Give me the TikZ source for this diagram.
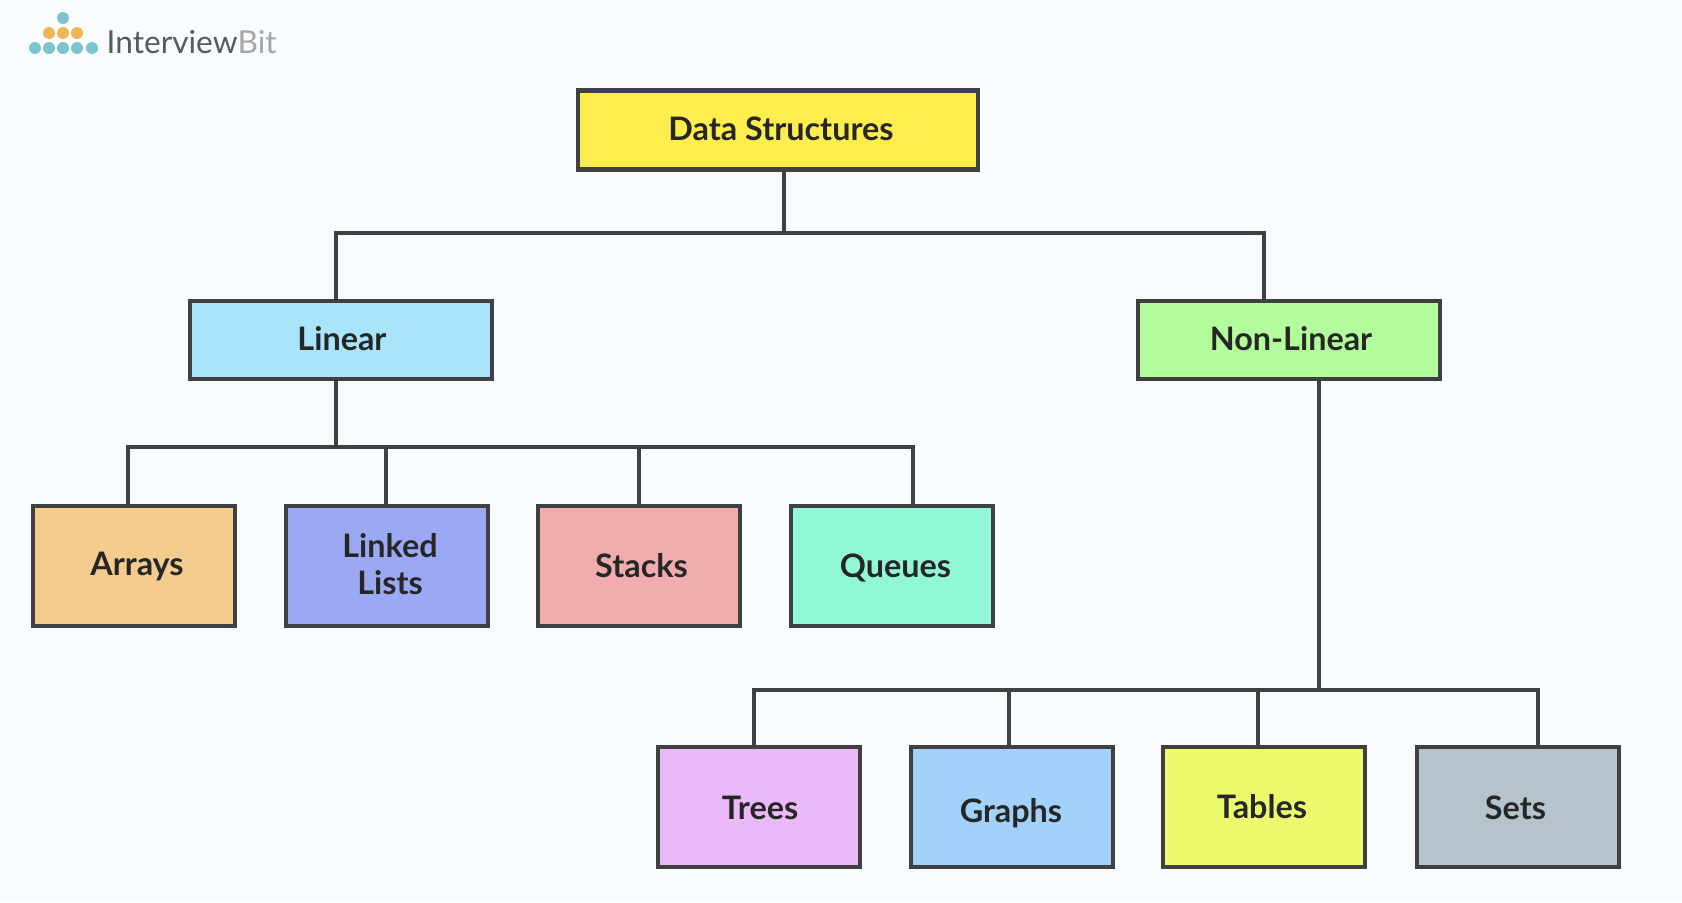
\documentclass[tikz,border=0pt]{standalone}
\usepackage{fontspec}
\setmainfont{Lato}

\definecolor{pagebg}{HTML}{F8FCFE}
\definecolor{linecol}{HTML}{404040}
\definecolor{dotteal}{HTML}{7CC4D0}
\definecolor{dotorange}{HTML}{EFB655}

\tikzset{
	box/.style={draw=linecol, line width=0.045cm, outer sep=0pt, inner sep=0pt, align=center, text=black!85, font=\fontsize{9.2}{10.5}\selectfont\bfseries},
	branch/.style={box, minimum width=3.02cm, minimum height=0.78cm},
	leaf/.style={box, minimum width=2.02cm, minimum height=1.2cm},
	link/.style={draw=linecol, line width=0.045cm, line cap=rect},
	nudge/.style={execute at begin node=\hspace*{#1}},
	rise/.style={text height=#1, text depth=0.06cm},
}

\begin{document}
\begin{tikzpicture}[x=0.01cm, y=-0.01cm]
	\fill[pagebg] (0,0) rectangle (1682,902);
	\useasboundingbox (0,0) rectangle (1682,902);

	% logo
	\foreach \x in {42,57,71,85} {\fill[white] (\x,41) circle (6);}
	\foreach \x in {57,71} {\fill[white] (\x,26) circle (6);}
	\foreach \x in {35,49,63,77,92} {\fill[dotteal] (\x,48) circle (6);}
	\foreach \x in {49,63,77} {\fill[dotorange] (\x,33) circle (6);}
	\fill[dotteal] (63,18) circle (6);
	\node[anchor=west, inner sep=0pt, font=\fontsize{9}{10}\selectfont] (logotext) at (106,42) {\textcolor{black!65}{Interview}\textcolor{black!35}{Bit}};

	% boxes
	\node[box, rise=0.27cm, nudge=0.06cm, fill={rgb,255:red,253;green,238;blue,77}, minimum width=4cm, minimum height=0.79cm] (ds) at (778,130) {Data Structures};
	\node[branch, rise=0.27cm, nudge=0.02cm, fill={rgb,255:red,170;green,228;blue,251}] (linear) at (341,340) {Linear};
	\node[branch, rise=0.27cm, nudge=0.04cm, fill={rgb,255:red,180;green,253;blue,156}] (nonlinear) at (1289,340) {Non-Linear};

	\node[leaf, rise=0.25cm, nudge=0.06cm, fill={rgb,255:red,244;green,204;blue,142}] (arrays) at (134,566) {Arrays};
	\node[leaf, text depth=0.04cm, fill={rgb,255:red,155;green,169;blue,245}] (linked) at (387,566) {\hspace*{0.06cm}Linked\\\hspace*{0.06cm}Lists};
	\node[leaf, rise=0.29cm, nudge=0.05cm, fill={rgb,255:red,241;green,173;blue,173}] (stacks) at (639,566) {Stacks};
	\node[leaf, rise=0.29cm, nudge=0.07cm, fill={rgb,255:red,144;green,249;blue,211}] (queues) at (892,566) {Queues};

	\node[leaf, rise=0.31cm, nudge=0.02cm, fill={rgb,255:red,235;green,185;blue,247}] (trees) at (759,807) {Trees};
	\node[leaf, rise=0.36cm, nudge=-0.02cm, fill={rgb,255:red,162;green,209;blue,250}] (graphs) at (1012,807) {Graphs};
	\node[leaf, rise=0.29cm, nudge=-0.04cm, fill={rgb,255:red,237;green,250;blue,110}] (tables) at (1264,807) {Tables};
	\node[leaf, rise=0.31cm, nudge=-0.05cm, fill={rgb,255:red,180;green,196;blue,202}] (sets) at (1518,807) {Sets};

	% top level
	\coordinate (jtop) at (784,233);
	\coordinate (jleft) at (336,233);
	\coordinate (jright) at (1264,233);
	\draw[link] (ds.south -| jtop) -- (jtop);
	\draw[link] (linear.north -| jleft) -- (jleft) -- (jright) -- (nonlinear.north -| jright);

	% linear row
	\coordinate (jlinear) at (336,447);
	\draw[link] (linear.south -| jlinear) -- (jlinear);
	\foreach \leafname/\x in {arrays/128,linked/386,stacks/639,queues/913} {
		\coordinate (j\leafname) at (\x,447);
		\draw[link] (j\leafname) -- (\leafname.north -| j\leafname);
	}
	\draw[link] (jarrays) -- (jqueues);

	% non-linear row
	\coordinate (jnonlinear) at (1319,690);
	\draw[link] (nonlinear.south -| jnonlinear) -- (jnonlinear);
	\foreach \leafname/\x in {trees/754,graphs/1009,tables/1258,sets/1538} {
		\coordinate (j\leafname) at (\x,690);
		\draw[link] (j\leafname) -- (\leafname.north -| j\leafname);
	}
	\draw[link] (jtrees) -- (jsets);
\end{tikzpicture}
\end{document}
